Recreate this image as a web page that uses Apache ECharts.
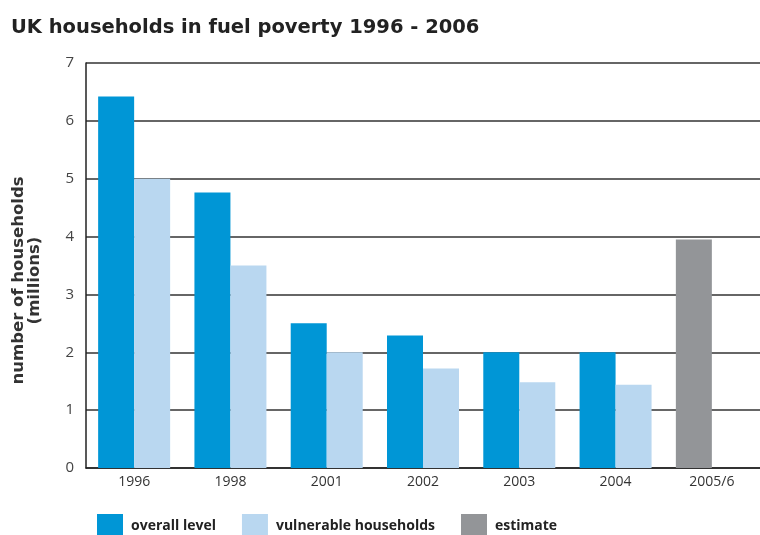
<!DOCTYPE html>
<html>
<head>
<meta charset="utf-8">
<script src="https://cdn.jsdelivr.net/npm/echarts@6/dist/echarts.min.js"></script>
<style>
  html, body { margin: 0; padding: 0; background: #fff; }
  #chart { width: 760px; height: 535px; }
</style>
</head>
<body>
<div id="chart"></div>
<script>
// values (millions of households)
const years = ['1996', '1998', '2001', '2002', '2003', '2004', '2005/6']
const overallLevel = [6.42, 4.76, 2.5, 2.29, 2.0, 2.0, '-']
const vulnerable = [5.0, 3.5, 2.0, 1.72, 1.48, 1.44, '-']
const estimate = ['-', '-', '-', '-', '-', '-', 3.95]
const yTicks = [0, 7, 1] // min, max, interval

const font = 'Open Sans'
const wide = 'DejaVu Sans'
const chart = echarts.init(document.getElementById('chart'))

chart.setOption({
  animation: false,
  title: {
    text: 'UK households in fuel poverty 1996 - 2006',
    left: 6,
    top: 13,
    textStyle: { fontFamily: wide, fontWeight: 'bold', fontSize: 19.5, color: '#222' }
  },
  legend: {
    left: 92,
    top: 509,
    itemWidth: 26,
    itemHeight: 25,
    itemGap: 26,
    icon: 'rect',
    textStyle: { fontFamily: font, fontWeight: 'bold', fontSize: 14, color: '#222', padding: [0, 0, 0, 3] },
    data: ['overall level', 'vulnerable households', 'estimate']
  },
  grid: { left: 86, right: 0, top: 63, bottom: 67 },
  xAxis: {
    type: 'category',
    data: years,
    axisTick: { show: false },
    axisLine: { lineStyle: { color: '#222', width: 1.5 } },
    axisLabel: { fontFamily: font, fontSize: 14, color: '#333', margin: 7 }
  },
  yAxis: {
    type: 'value',
    min: yTicks[0],
    max: yTicks[1],
    interval: yTicks[2],
    name: 'number of households\n(millions)',
    nameLocation: 'middle',
    nameGap: 43,
    nameTextStyle: { fontFamily: wide, fontWeight: 'bold', fontSize: 16.5, color: '#333', lineHeight: 16, padding: [0, 30, 0, 0] },
    axisLine: { show: true, lineStyle: { color: '#222', width: 1.5 } },
    axisTick: { show: false },
    axisLabel: { fontFamily: font, fontSize: 15, color: '#444', margin: 12 },
    splitLine: { lineStyle: { color: '#333', width: 1.5 } }
  },
  series: [
    {
      name: 'overall level',
      type: 'bar',
      stack: 'a',
      barWidth: 36,
      barGap: '0%',
      itemStyle: { color: '#0096d6' },
      data: overallLevel
    },
    {
      name: 'vulnerable households',
      type: 'bar',
      barWidth: 36,
      barGap: '0%',
      itemStyle: { color: '#b9d7f0' },
      data: vulnerable
    },
    {
      name: 'estimate',
      type: 'bar',
      stack: 'a',
      barWidth: 36,
      itemStyle: { color: '#939598' },
      data: estimate
    }
  ]
})
</script>
</body>
</html>
